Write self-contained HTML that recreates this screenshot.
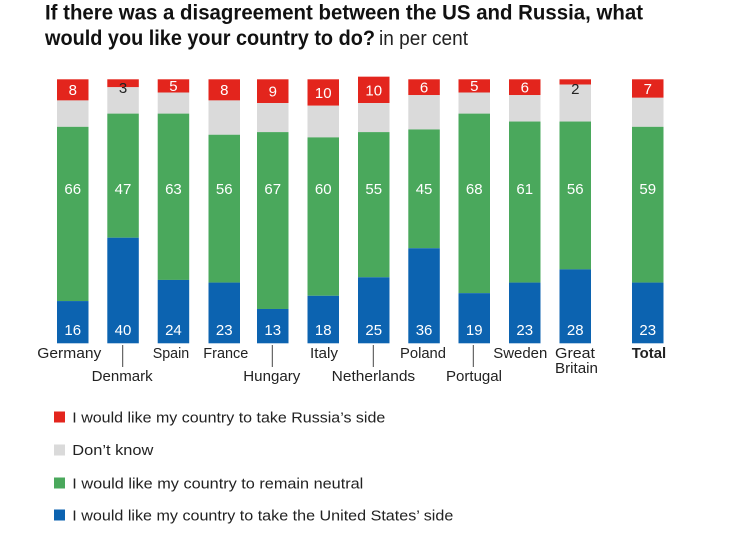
<!DOCTYPE html>
<html><head><meta charset="utf-8"><style>
html,body{margin:0;padding:0;background:#fff;}
svg{display:block;}
text{font-family:"Liberation Sans",sans-serif;}
.t{font-weight:bold;font-size:21px;fill:#111;}
.n{font-size:15px;fill:#fff;text-anchor:middle;}
.k{font-size:15px;fill:#222;text-anchor:middle;}
.c{font-size:15px;fill:#222;}
.l{font-size:15px;fill:#222;}
</style></head><body>
<svg width="734" height="538" viewBox="0 0 734 538" xmlns="http://www.w3.org/2000/svg">
<rect width="734" height="538" fill="#fff"/>
<text class="t" x="45" y="19.5" textLength="598" lengthAdjust="spacingAndGlyphs">If there was a disagreement between the US and Russia, what</text>
<text class="t" x="45" y="45" textLength="330" lengthAdjust="spacingAndGlyphs">would you like your country to do?</text>
<text x="379" y="45" font-size="20" fill="#222" textLength="89" lengthAdjust="spacingAndGlyphs">in per cent</text>

<g>
<!-- Germany -->
<rect x="57" y="79.3" width="31.5" height="21.12" fill="#e3251d"/>
<rect x="57" y="100.42" width="31.5" height="26.4" fill="#dadada"/>
<rect x="57" y="126.82" width="31.5" height="174.24" fill="#4aa85c"/>
<rect x="57" y="301.06" width="31.5" height="42.24" fill="#0c63b0"/>
<!-- Denmark -->
<rect x="107.3" y="79.3" width="31.5" height="7.92" fill="#e3251d"/>
<rect x="107.3" y="87.22" width="31.5" height="26.4" fill="#dadada"/>
<rect x="107.3" y="113.62" width="31.5" height="124.08" fill="#4aa85c"/>
<rect x="107.3" y="237.7" width="31.5" height="105.6" fill="#0c63b0"/>
<!-- Spain -->
<rect x="157.7" y="79.3" width="31.5" height="13.2" fill="#e3251d"/>
<rect x="157.7" y="92.5" width="31.5" height="21.12" fill="#dadada"/>
<rect x="157.7" y="113.62" width="31.5" height="166.32" fill="#4aa85c"/>
<rect x="157.7" y="279.94" width="31.5" height="63.36" fill="#0c63b0"/>
<!-- France -->
<rect x="208.5" y="79.3" width="31.5" height="21.12" fill="#e3251d"/>
<rect x="208.5" y="100.42" width="31.5" height="34.32" fill="#dadada"/>
<rect x="208.5" y="134.74" width="31.5" height="147.84" fill="#4aa85c"/>
<rect x="208.5" y="282.58" width="31.5" height="60.72" fill="#0c63b0"/>
<!-- Hungary -->
<rect x="257" y="79.3" width="31.5" height="23.76" fill="#e3251d"/>
<rect x="257" y="103.06" width="31.5" height="29.04" fill="#dadada"/>
<rect x="257" y="132.1" width="31.5" height="176.88" fill="#4aa85c"/>
<rect x="257" y="308.98" width="31.5" height="34.32" fill="#0c63b0"/>
<!-- Italy -->
<rect x="307.5" y="79.3" width="31.5" height="26.4" fill="#e3251d"/>
<rect x="307.5" y="105.7" width="31.5" height="31.68" fill="#dadada"/>
<rect x="307.5" y="137.38" width="31.5" height="158.4" fill="#4aa85c"/>
<rect x="307.5" y="295.78" width="31.5" height="47.52" fill="#0c63b0"/>
<!-- Netherlands -->
<rect x="358" y="76.66" width="31.5" height="26.4" fill="#e3251d"/>
<rect x="358" y="103.06" width="31.5" height="29.04" fill="#dadada"/>
<rect x="358" y="132.1" width="31.5" height="145.2" fill="#4aa85c"/>
<rect x="358" y="277.3" width="31.5" height="66" fill="#0c63b0"/>
<!-- Poland -->
<rect x="408.3" y="79.3" width="31.5" height="15.84" fill="#e3251d"/>
<rect x="408.3" y="95.14" width="31.5" height="34.32" fill="#dadada"/>
<rect x="408.3" y="129.46" width="31.5" height="118.8" fill="#4aa85c"/>
<rect x="408.3" y="248.26" width="31.5" height="95.04" fill="#0c63b0"/>
<!-- Portugal -->
<rect x="458.5" y="79.3" width="31.5" height="13.2" fill="#e3251d"/>
<rect x="458.5" y="92.5" width="31.5" height="21.12" fill="#dadada"/>
<rect x="458.5" y="113.62" width="31.5" height="179.52" fill="#4aa85c"/>
<rect x="458.5" y="293.14" width="31.5" height="50.16" fill="#0c63b0"/>
<!-- Sweden -->
<rect x="509" y="79.3" width="31.5" height="15.84" fill="#e3251d"/>
<rect x="509" y="95.14" width="31.5" height="26.4" fill="#dadada"/>
<rect x="509" y="121.54" width="31.5" height="161.04" fill="#4aa85c"/>
<rect x="509" y="282.58" width="31.5" height="60.72" fill="#0c63b0"/>
<!-- GB -->
<rect x="559.5" y="79.3" width="31.5" height="5.28" fill="#e3251d"/>
<rect x="559.5" y="84.58" width="31.5" height="36.96" fill="#dadada"/>
<rect x="559.5" y="121.54" width="31.5" height="147.84" fill="#4aa85c"/>
<rect x="559.5" y="269.38" width="31.5" height="73.92" fill="#0c63b0"/>
<!-- Total -->
<rect x="632" y="79.3" width="31.5" height="18.48" fill="#e3251d"/>
<rect x="632" y="97.78" width="31.5" height="29.04" fill="#dadada"/>
<rect x="632" y="126.82" width="31.5" height="155.76" fill="#4aa85c"/>
<rect x="632" y="282.58" width="31.5" height="60.72" fill="#0c63b0"/>
</g>

<!-- red labels -->
<text class="n" x="72.75" y="95">8</text>
<text class="k" x="123" y="93" fill="#111">3</text>
<text class="n" x="173.45" y="91">5</text>
<text class="n" x="224.25" y="95">8</text>
<text class="n" x="272.75" y="96.5">9</text>
<text class="n" x="323.25" y="98">10</text>
<text class="n" x="373.75" y="95.5">10</text>
<text class="n" x="424.05" y="92.5">6</text>
<text class="n" x="474.25" y="91">5</text>
<text class="n" x="524.75" y="92.5">6</text>
<text class="k" x="575.25" y="94" fill="#111">2</text>
<text class="n" x="647.75" y="94">7</text>

<!-- green labels -->
<text class="n" x="72.75" y="194">66</text>
<text class="n" x="123" y="194">47</text>
<text class="n" x="173.45" y="194">63</text>
<text class="n" x="224.25" y="194">56</text>
<text class="n" x="272.75" y="194">67</text>
<text class="n" x="323.25" y="194">60</text>
<text class="n" x="373.75" y="194">55</text>
<text class="n" x="424.05" y="194">45</text>
<text class="n" x="474.25" y="194">68</text>
<text class="n" x="524.75" y="194">61</text>
<text class="n" x="575.25" y="194">56</text>
<text class="n" x="647.75" y="194">59</text>

<!-- blue labels -->
<text class="n" x="72.75" y="335">16</text>
<text class="n" x="123" y="335">40</text>
<text class="n" x="173.45" y="335">24</text>
<text class="n" x="224.25" y="335">23</text>
<text class="n" x="272.75" y="335">13</text>
<text class="n" x="323.25" y="335">18</text>
<text class="n" x="373.75" y="335">25</text>
<text class="n" x="424.05" y="335">36</text>
<text class="n" x="474.25" y="335">19</text>
<text class="n" x="524.75" y="335">23</text>
<text class="n" x="575.25" y="335">28</text>
<text class="n" x="647.75" y="335">23</text>

<!-- ticks -->
<g stroke="#444" stroke-width="1">
<line x1="122.7" y1="345" x2="122.7" y2="367"/>
<line x1="272.3" y1="345" x2="272.3" y2="367"/>
<line x1="373.3" y1="345" x2="373.3" y2="367"/>
<line x1="473.3" y1="345" x2="473.3" y2="367"/>
</g>

<!-- category labels -->
<text class="c" x="37.3" y="358" textLength="64" lengthAdjust="spacingAndGlyphs">Germany</text>
<text class="c" x="91.7" y="381" textLength="61" lengthAdjust="spacingAndGlyphs">Denmark</text>
<text class="c" x="152.7" y="358" textLength="36.5" lengthAdjust="spacingAndGlyphs">Spain</text>
<text class="c" x="203.3" y="358" textLength="45" lengthAdjust="spacingAndGlyphs">France</text>
<text class="c" x="243.3" y="381" textLength="57" lengthAdjust="spacingAndGlyphs">Hungary</text>
<text class="c" x="310" y="358" textLength="28" lengthAdjust="spacingAndGlyphs">Italy</text>
<text class="c" x="331.7" y="381" textLength="83.5" lengthAdjust="spacingAndGlyphs">Netherlands</text>
<text class="c" x="400" y="358" textLength="46" lengthAdjust="spacingAndGlyphs">Poland</text>
<text class="c" x="446" y="381" textLength="56" lengthAdjust="spacingAndGlyphs">Portugal</text>
<text class="c" x="493.3" y="358" textLength="54" lengthAdjust="spacingAndGlyphs">Sweden</text>
<text class="c" x="555" y="358" textLength="40" lengthAdjust="spacingAndGlyphs">Great</text>
<text class="c" x="555" y="373" textLength="43" lengthAdjust="spacingAndGlyphs">Britain</text>
<text class="c" x="631.7" y="358" font-weight="bold" fill="#111" textLength="34.5" lengthAdjust="spacingAndGlyphs">Total</text>

<!-- legend -->
<rect x="54" y="411.5" width="11" height="11" fill="#e3251d"/>
<text class="l" x="72.3" y="422.3" textLength="313" lengthAdjust="spacingAndGlyphs">I would like my country to take Russia’s side</text>
<rect x="54" y="444.5" width="11" height="11" fill="#dadada"/>
<text class="l" x="72.3" y="455" textLength="81" lengthAdjust="spacingAndGlyphs">Don’t know</text>
<rect x="54" y="477.5" width="11" height="11" fill="#4aa85c"/>
<text class="l" x="72.3" y="488.3" textLength="291" lengthAdjust="spacingAndGlyphs">I would like my country to remain neutral</text>
<rect x="54" y="509.5" width="11" height="11" fill="#0c63b0"/>
<text class="l" x="72.3" y="520.3" textLength="381" lengthAdjust="spacingAndGlyphs">I would like my country to take the United States’ side</text>
</svg>
</body></html>
